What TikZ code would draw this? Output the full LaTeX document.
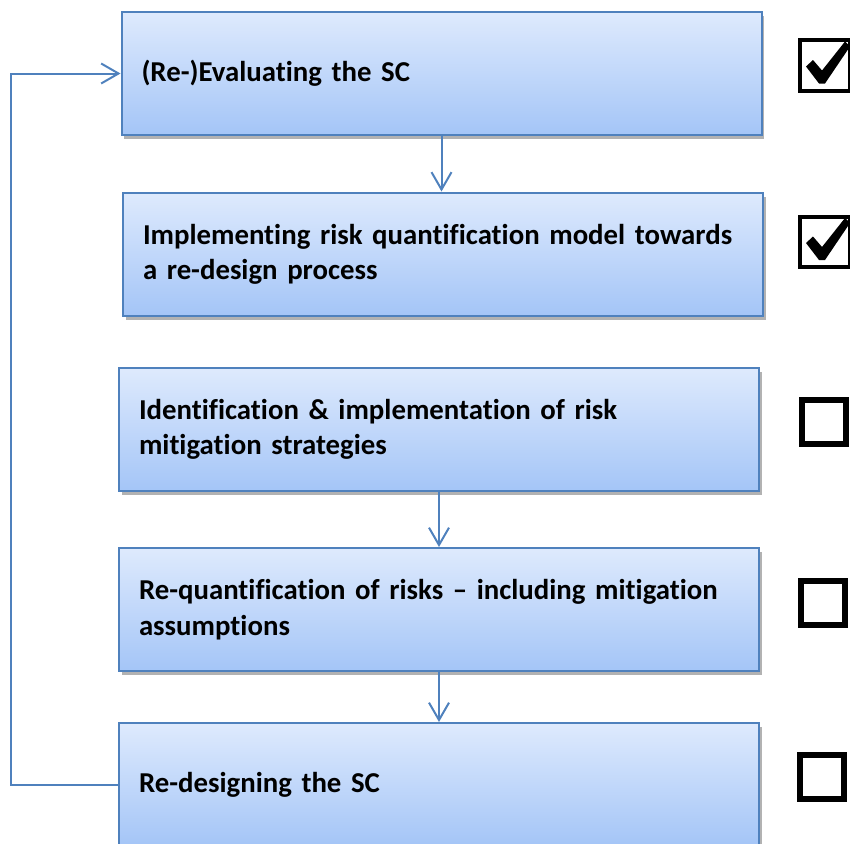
\documentclass[tikz,border=0pt]{standalone}
\usepackage{fontspec}
\setmainfont{Carlito}[Ligatures=NoCommon]
\usetikzlibrary{arrows.meta,shadows}
\definecolor{stepline}{RGB}{79,129,189}
\definecolor{steptop}{RGB}{222,234,253}
\definecolor{stepbottom}{RGB}{164,197,247}

\begin{document}
\begin{tikzpicture}[x=0.75pt, y=-0.75pt,
	stepbox/.style={draw=stepline, line width=1.5pt, top color=steptop, bottom color=stepbottom,
		minimum width=480pt, minimum height=92.25pt, text width=450pt, inner xsep=15pt, align=left,
		font=\bfseries\fontsize{21.6}{26.5}\selectfont,
		drop shadow={shadow xshift=2pt, shadow yshift=-3pt, fill=black, opacity=0.3}},
	flow/.style={draw=stepline, line width=1.5pt, -{Straight Barb[length=13pt,width=15pt]}},
	donebox/.style={draw=black, line width=3pt, minimum width=37pt, minimum height=38pt},
	openbox/.style={draw=black, line width=4.5pt, minimum size=33pt}]
	\useasboundingbox (0,0) rectangle (850,843);

	% steps
	\node[stepbox] (eval) at (441.5, 73.5) {(Re-)Evaluating the SC};
	\node[stepbox] (quant) at (443, 254) {Implementing risk quantification model towards\\a re-design process};
	\node[stepbox] (mitig) at (439, 429.5) {Identification \& implementation of risk\\mitigation strategies};
	\node[stepbox] (requant) at (439, 609.5) {Re-quantification of risks – including mitigation\\assumptions};
	\node[stepbox] (redesign) at (439, 784.5) {Re-designing the SC};

	% connectors
	\draw[flow] (eval.south) -- (eval.south |- quant.north);
	\draw[flow] (mitig.south) -- (requant.north);
	\draw[flow] (requant.south) -- (redesign.north);
	\draw[flow] (redesign.west) -- ++(-107,0) |- (eval.west);

	% status boxes
	\node[donebox] (chk1) at (825, 65.5) {};
	\node[donebox] (chk2) at (825, 242) {};
	\node[openbox] (chk3) at (824, 422) {};
	\node[openbox] (chk4) at (823, 603) {};
	\node[openbox] (chk5) at (822, 777) {};
	\foreach \chk in {chk1, chk2}{
		\fill[shift={(\chk.center)}, line join=round] (-19,1) -- (-12,-5.5) -- (-3,5) -- (20,-24)
			-- (25,-19) -- (0,18) -- (-6,18) -- cycle;}
\end{tikzpicture}
\end{document}
